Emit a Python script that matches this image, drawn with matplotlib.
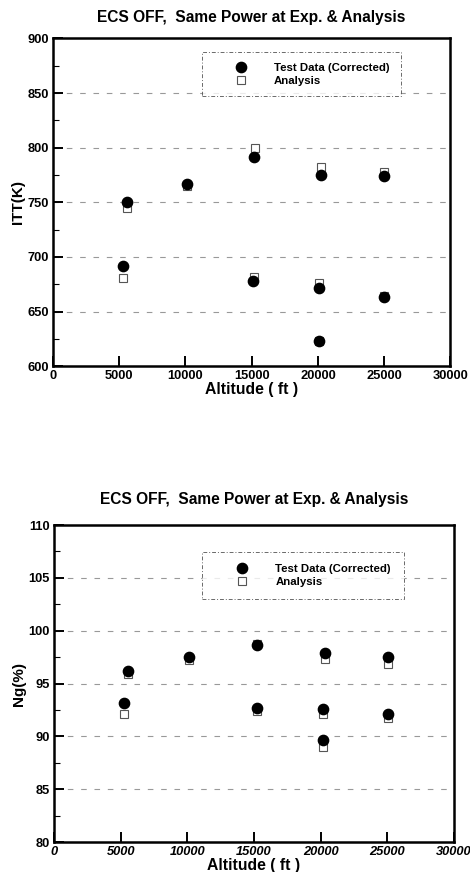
import matplotlib.pyplot as plt
from matplotlib.ticker import MultipleLocator

plt.rcParams["font.family"] = ["Liberation Sans", "DejaVu Sans"]
plt.rcParams["font.weight"] = "bold"

title = "ECS OFF,  Same Power at Exp. & Analysis"

# ITT chart
itt_test_alt = [5270, 5570, 10100, 15190, 15090, 20230, 20050, 20050, 24960, 24960]
itt_test = [692, 750, 767, 791, 678, 775, 672, 623, 774, 663]
itt_ana_alt = [5270, 5570, 10100, 15240, 15140, 20230, 20050, 20050, 24960, 24960]
itt_ana = [681, 745, 765, 800, 682, 782, 676, 623, 778, 664]

# Ng chart
ng_test_alt = [5270, 5530, 10100, 15230, 15230, 20330, 20150, 20150, 25030, 25030]
ng_test = [93.2, 96.2, 97.5, 98.6, 92.7, 97.9, 92.6, 89.7, 97.5, 92.1]
ng_ana_alt = [5270, 5530, 10100, 15230, 15230, 20330, 20150, 20150, 25030, 25030]
ng_ana = [92.1, 95.9, 97.2, 98.7, 92.4, 97.3, 92.1, 89.0, 96.8, 91.7]

x_ticks = [0, 5000, 10000, 15000, 20000, 25000, 30000]

fig = plt.figure(figsize=(4.7, 8.72), dpi=100)
ax1 = fig.add_axes([0.113, 0.580, 0.845, 0.376])
ax2 = fig.add_axes([0.115, 0.0344, 0.851, 0.3635])


def draw_panel(ax, alt_t, val_t, alt_a, val_a, ylim, ymajor, yminor, ylabel,
               legend_box, italic_x, title_pad, leg_pad):
    ax.plot(alt_t, val_t, "o", markersize=7.4, color="black",
            linestyle="none", label="Test Data (Corrected)", zorder=4)
    ax.plot(alt_a, val_a, "s", markersize=6, markerfacecolor="white",
            markeredgecolor="#555555", markeredgewidth=0.8, linestyle="none",
            label="Analysis", zorder=3)
    ax.set_xlim(0, 30000)
    ax.set_ylim(*ylim)
    ax.set_xticks(x_ticks)
    ax.yaxis.set_major_locator(MultipleLocator(ymajor))
    ax.yaxis.set_minor_locator(MultipleLocator(yminor))
    ax.tick_params(direction="in", length=7, width=1.4, labelsize=9.3, pad=3)
    ax.tick_params(which="minor", direction="in", length=4, width=0.8)
    for lab in ax.get_xticklabels() + ax.get_yticklabels():
        lab.set_fontweight("bold")
    if italic_x:
        for lab in ax.get_xticklabels():
            lab.set_fontstyle("italic")
    for sp in ax.spines.values():
        sp.set_linewidth(1.8)
    ax.yaxis.grid(True, color="#999999", linestyle=(0, (5, 7)), linewidth=0.8)
    ax.set_axisbelow(True)
    ax.set_title(title, fontsize=11.2, fontweight="bold", pad=title_pad)
    ax.set_xlabel("Altitude ( ft )", fontsize=11.3, fontweight="bold", labelpad=0)
    ax.set_ylabel(ylabel, fontsize=11, fontweight="bold", labelpad=2)
    leg = ax.legend(loc="upper left", bbox_to_anchor=legend_box, mode="expand",
                    frameon=True, fancybox=False, fontsize=8.2,
                    handlelength=5.0, handletextpad=0.4, borderpad=leg_pad,
                    labelspacing=0.3, borderaxespad=0)
    frame = leg.get_frame()
    frame.set_edgecolor("#444444")
    frame.set_linestyle((0, (4, 2, 1, 2)))
    frame.set_linewidth(0.7)
    for t in leg.get_texts():
        t.set_fontweight("bold")


draw_panel(ax1, itt_test_alt, itt_test, itt_ana_alt, itt_ana, (600, 900), 50, 25,
           "ITT(K)", (0.375, 0.82, 0.5, 0.137), False, 12, 0.9)
draw_panel(ax2, ng_test_alt, ng_test, ng_ana_alt, ng_ana, (80, 110), 5, 2.5,
           "Ng(%)", (0.37, 0.763, 0.505, 0.153), True, 15, 1.05)

fig.savefig("out.png", dpi=100)
